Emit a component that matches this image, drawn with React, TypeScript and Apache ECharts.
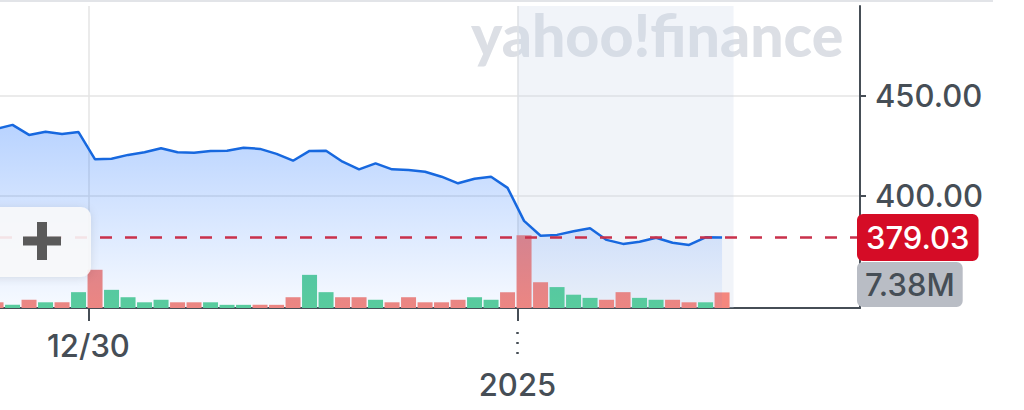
import React, { useEffect, useRef } from "react";
import * as echarts from "echarts";

// 30-minute interval index: 0 = first bar of 12/30, 26 = first bar of 2025 (Jan 2)
const intervalIndex = [
  -6, -5, -4, -3, -2, -1,
  0, 1, 2, 3, 4, 5, 6, 7, 8, 9, 10, 11, 12,
  13, 14, 15, 16, 17, 18, 19, 20, 21, 22, 23, 24, 25,
  26, 27, 28, 29, 30, 31, 32, 33, 34, 35, 36, 37, 38,
];

const prices = [
  433.3, 435.3, 430.3, 431.9, 430.8, 431.7,
  418.1, 418.4, 420.3, 421.6, 423.6, 421.6, 421.4, 422.3, 422.4, 423.9, 423.3, 420.8, 417.4,
  422.3, 422.4, 416.9, 413.1, 416.1, 413.1, 412.8, 411.9, 409.4, 406.1, 408.4, 409.4, 403.8,
  387.3, 379.9, 380.3, 382.1, 383.6, 377.8, 375.8, 376.9, 378.9, 376.4, 375.3, 379.1, 379.03,
];

// volume in millions
const volumes = [
  2.7, 1.5, 3.9, 2.7, 2.7, 7.5,
  18.1, 8.6, 5.1, 2.7, 3.9, 2.7, 2.7, 2.7, 1.5, 1.5, 1.5, 1.5, 5.1,
  15.7, 7.5, 5.1, 5.1, 3.9, 2.7, 5.1, 2.7, 2.7, 3.9, 5.1, 3.9, 7.5,
  34.4, 12.2, 9.9, 6.3, 4.8, 3.9, 7.5, 4.8, 3.9, 3.9, 2.7, 2.7, 7.38,
];

const volumeDirection = [
  "down", "up", "down", "up", "down", "up",
  "down", "up", "up", "up", "up", "down", "down", "up", "up", "up", "down", "down", "down",
  "up", "up", "down", "down", "up", "down", "down", "down", "down", "down", "up", "up", "down",
  "down", "down", "up", "up", "up", "down", "down", "up", "up", "down", "down", "up", "down",
];

const dayTickIndex = [-0.4, 25.6];
const dayTickLabels = ["12/30", "2025"];
const priceTicks = [400, 450];
const lastPrice = 379.03;
const lastVolume = 7.38;
const currentSession = [25.6, 38.7];

const FONT = 'Inter, "Noto Sans", sans-serif';
const TEXT = "#464e56";
const UP = "#5bcf9a";
const DOWN = "#f4877e";

function labelFor(v: number) {
  let best = 0;
  for (let i = 0; i < dayTickIndex.length; i++) {
    if (Math.abs(dayTickIndex[i] - v) < Math.abs(dayTickIndex[best] - v)) best = i;
  }
  return dayTickLabels[best];
}

export default function App() {
  const ref = useRef<HTMLDivElement>(null);
  useEffect(() => {
    if (!ref.current) return;
    const chart = echarts.init(ref.current, undefined, { renderer: "svg" });
    const xMin = -5.76;
    const xMax = 46.36;
    const labelFont = { color: TEXT, fontSize: 31, fontWeight: 500, fontFamily: FONT };
    const option: any = {
      animation: false,
      backgroundColor: "#ffffff",
      textStyle: { fontFamily: FONT },
      grid: { left: 0, right: 164, top: 6, bottom: 102, containLabel: false, outerBoundsMode: "none" },
      xAxis: [
        {
          type: "value",
          min: xMin,
          max: xMax,
          position: "bottom",
          axisLine: { show: true, onZero: false, lineStyle: { color: TEXT, width: 2 } },
          axisTick: { show: true, customValues: dayTickIndex, length: 13, lineStyle: { color: TEXT, width: 2 } },
          axisLabel: {
            show: true,
            customValues: [dayTickIndex[0]],
            formatter: (v: number) => labelFor(v),
            ...labelFont,
            margin: 22,
          },
          splitLine: { show: true, lineStyle: { color: "#e4e4e4", width: 1.5 } },
        },
        {
          type: "value",
          min: xMin,
          max: xMax,
          position: "bottom",
          offset: 24,
          axisLine: { show: false, onZero: false },
          axisTick: { show: true, customValues: [dayTickIndex[1]], length: 24, lineStyle: { color: TEXT, width: 2.5, type: [2, 8] } },
          axisLabel: {
            show: true,
            customValues: [dayTickIndex[1]],
            formatter: (v: number) => labelFor(v),
            ...labelFont,
            margin: 37,
          },
          splitLine: { show: false },
        },
      ],
      yAxis: [
        {
          type: "value",
          position: "right",
          min: 343.75,
          max: 494.75,
          axisLine: { show: true, onZero: false, lineStyle: { color: TEXT, width: 2 } },
          axisTick: { show: true, customValues: priceTicks, length: 6, lineStyle: { color: TEXT, width: 2 } },
          axisLabel: {
            show: true,
            customValues: priceTicks,
            formatter: (v: number) => v.toFixed(2),
            ...labelFont,
            margin: 15,
          },
          splitLine: { show: true, lineStyle: { color: "#e4e4e4", width: 1.5 } },
        },
        {
          type: "value",
          min: 0,
          max: 143,
          show: false,
          axisLine: { onZero: false },
        },
      ],
      series: [
        {
          type: "bar",
          name: "volume",
          xAxisIndex: 0,
          yAxisIndex: 1,
          barWidth: 15,
          z: 2,
          silent: true,
          data: intervalIndex.map((k, i) => ({
            value: [k, volumes[i]],
            itemStyle: { color: volumeDirection[i] === "up" ? UP : DOWN },
          })),
          markLine: {
            silent: true,
            symbol: "none",
            lineStyle: { color: "rgba(0,0,0,0)", width: 1 },
            label: {
              show: true,
              position: "end",
              distance: -3,
              offset: [0, -8],
              formatter: () => lastVolume.toFixed(2) + "M",
              backgroundColor: "#b9bdc5",
              borderRadius: 6,
              padding: [7, 8, 7, 8],
              ...labelFont,
            },
            data: [{ yAxis: lastVolume }],
          },
        },
        {
          type: "line",
          name: "price",
          xAxisIndex: 0,
          yAxisIndex: 0,
          z: 3,
          silent: true,
          showSymbol: false,
          symbol: "none",
          data: intervalIndex.map((k, i) => [k, prices[i]]),
          lineStyle: { color: "#1768df", width: 2.5 },
          areaStyle: {
            origin: "start",
            color: new echarts.graphic.LinearGradient(0, 0, 0, 1, [
              { offset: 0, color: "rgba(15,105,255,0.42)" },
              { offset: 1, color: "rgba(15,105,255,0.05)" },
            ]),
          },
          markArea: {
            silent: true,
            itemStyle: { color: "rgba(205,215,232,0.28)" },
            data: [[{ xAxis: currentSession[0] }, { xAxis: currentSession[1] }]],
          },
          markLine: {
            silent: true,
            symbol: "none",
            lineStyle: { color: "#c9314b", width: 2.5, type: [12, 13] },
            label: {
              show: true,
              position: "end",
              distance: -3,
              formatter: () => lastPrice.toFixed(2),
              backgroundColor: "#d50c26",
              borderRadius: 6,
              padding: [8, 9, 8, 9],
              ...labelFont,
              color: "#ffffff",
            },
            data: [{ yAxis: lastPrice }],
          },
        },
      ],
      graphic: [
        {
          type: "line",
          silent: true,
          z: 0,
          shape: { x1: 0, y1: 1, x2: 993, y2: 1 },
          style: { stroke: "#e2e4e8", lineWidth: 2 },
        },
        {
          type: "text",
          silent: true,
          z: 0,
          x: 471,
          y: 5,
          style: {
            text: "yahoo!finance",
            fill: "#dcdfe5",
            fontSize: 59,
            fontWeight: 900,
            fontFamily: 'Lato, "Open Sans", sans-serif',
            textAlign: "left",
            textVerticalAlign: "top",
          },
        },
        {
          type: "group",
          silent: true,
          z: 100,
          children: [
            {
              type: "rect",
              z: 100,
              shape: { x: -20, y: 207, width: 111, height: 70, r: 10 },
              style: {
                fill: "rgba(250,250,250,0.88)",
                shadowBlur: 8,
                shadowColor: "rgba(0,0,0,0.12)",
                shadowOffsetY: 1,
              },
            },
            {
              type: "rect",
              z: 101,
              shape: { x: 23, y: 236.5, width: 38, height: 9 },
              style: { fill: "#5a5a5a" },
            },
            {
              type: "rect",
              z: 101,
              shape: { x: 37, y: 222, width: 10, height: 38 },
              style: { fill: "#5a5a5a" },
            },
          ],
        },
      ],
    };
    chart.setOption(option);
    return () => chart.dispose();
  }, []);
  return (
    <div
      ref={ref}
      style={{ position: "absolute", left: 0, top: 0, width: 1024, height: 410 }}
    />
  );
}
